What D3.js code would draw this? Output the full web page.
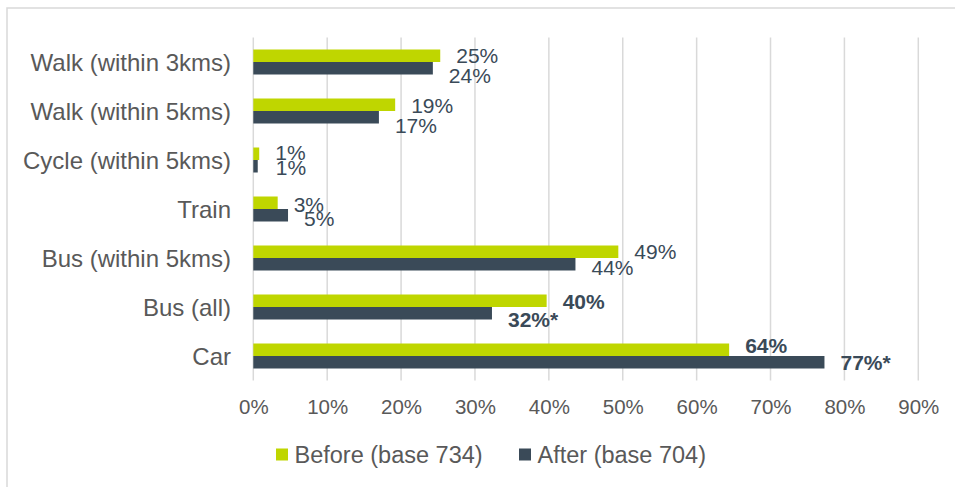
<!DOCTYPE html>
<html>
<head>
<meta charset="utf-8">
<script src="https://cdn.jsdelivr.net/npm/d3@7"></script>
<style>
  html, body { margin: 0; padding: 0; background: #fff; }
  svg { display: block; font-family: "Liberation Sans", Arial, sans-serif; }
</style>
</head>
<body>
<svg id="chart" width="955" height="487"></svg>
<script>
// Travel mode shares, before vs after
const categories = ["Walk (within 3kms)", "Walk (within 5kms)", "Cycle (within 5kms)", "Train", "Bus (within 5kms)", "Bus (all)", "Car"];
const beforeValues = [0.253, 0.192, 0.008, 0.033, 0.494, 0.397, 0.644];
const afterValues  = [0.243, 0.170, 0.006, 0.047, 0.436, 0.323, 0.773];
// significance marker on the "after" figures
const afterMarks   = ["", "", "", "", "", "*", "*"];
// categories whose figures are shown in bold
const boldCategories = ["Bus (all)", "Car"];
const seriesNames = ["Before (base 734)", "After (base 704)"];
const xTicks = [0, 0.1, 0.2, 0.3, 0.4, 0.5, 0.6, 0.7, 0.8, 0.9];

// label nudges (px) so neighbouring figures sit apart
const beforeLabelDy = [0, 0.5, -1, 1.5, -0.5, 0.5, -4.5];
const afterLabelDy  = [7.5, 8.5, 1, 3, 3.5, 6.5, 0];
const afterLabelDx  = [16, 16, 18, 16, 16, 16, 16];

const colors = ["#bfd600", "#3a4a58"];
const gridColor = "#d9d9d9";
const textGray = "#595959";

const svg = d3.select("#chart");

// outer chart frame
svg.append("rect")
  .attr("x", 7).attr("y", 8)
  .attr("width", 980).attr("height", 520)
  .attr("fill", "none")
  .attr("stroke", gridColor)
  .attr("stroke-width", 1.5);

const x = d3.scaleLinear().domain([0, 0.9]).range([253.3, 918.3]);
const y = d3.scaleBand().domain(categories).range([37.5, 380.5])
  .paddingInner(24 / 49).paddingOuter(12 / 49);
const ySeries = d3.scaleBand().domain([0, 1]).range([0, y.bandwidth()]);

// vertical gridlines
svg.append("g").selectAll("line")
  .data(xTicks)
  .join("line")
  .attr("x1", d => x(d)).attr("x2", d => x(d))
  .attr("y1", 37.5).attr("y2", 380.5)
  .attr("stroke", gridColor)
  .attr("stroke-width", 1.5);

// x axis tick labels
const xAxis = d3.axisBottom(x).tickValues(xTicks).tickFormat(d3.format(".0%")).tickSize(0).tickPadding(0);
const gx = svg.append("g").attr("transform", "translate(0,399)").call(xAxis);
gx.select(".domain").remove();
gx.selectAll("text")
  .attr("dy", null)
  .attr("y", 14.5)
  .attr("fill", textGray)
  .style("font-size", "20.5px")
  .style("font-family", "'Liberation Sans', Arial, sans-serif");

// category labels
const yAxis = d3.axisLeft(y).tickSize(0).tickPadding(0);
const gy = svg.append("g").attr("transform", "translate(231,0)").call(yAxis);
gy.select(".domain").remove();
gy.selectAll("text")
  .attr("dy", "0.36em")
  .attr("x", 0)
  .attr("fill", textGray)
  .style("font-size", "24px")
  .style("font-family", "'Liberation Sans', Arial, sans-serif");

const rows = categories.map((c, i) => ({
  cat: c,
  vals: [beforeValues[i], afterValues[i]],
  marks: ["", afterMarks[i]],
  dy: [beforeLabelDy[i], afterLabelDy[i]],
  dx: [16, afterLabelDx[i]],
  bold: boldCategories.includes(c)
}));

const groups = svg.append("g").selectAll("g")
  .data(rows)
  .join("g")
  .attr("transform", d => `translate(0,${y(d.cat)})`);

// bars
groups.selectAll("rect")
  .data(d => d.vals.map((v, s) => ({ v, s })))
  .join("rect")
  .attr("x", x(0))
  .attr("y", d => ySeries(d.s))
  .attr("width", d => x(d.v) - x(0))
  .attr("height", ySeries.bandwidth())
  .attr("fill", d => colors[d.s]);

// value labels
const pct = d3.format(".0%");
const labelSize = 21;
groups.selectAll("text")
  .data(d => d.vals.map((v, s) => ({ v, s, mark: d.marks[s], dy: d.dy[s], dx: d.dx[s], bold: d.bold })))
  .join("text")
  .attr("x", d => x(d.v) + d.dx)
  .attr("y", d => ySeries(d.s) + ySeries.bandwidth() / 2 + d.dy + labelSize * 0.36)
  .attr("fill", colors[1])
  .style("font-size", labelSize + "px")
  .style("font-weight", d => d.bold ? "bold" : "normal")
  .text(d => pct(d.v) + d.mark);

// legend
const legendItems = [
  { name: seriesNames[0], color: colors[0], x: 276 },
  { name: seriesNames[1], color: colors[1], x: 519 }
];
const legend = svg.append("g").selectAll("g")
  .data(legendItems)
  .join("g")
  .attr("transform", d => `translate(${d.x},448.5)`);
legend.append("rect")
  .attr("width", 12).attr("height", 12)
  .attr("fill", d => d.color);
legend.append("text")
  .attr("x", 18.5).attr("y", 14.5)
  .attr("fill", textGray)
  .style("font-size", "23.5px")
  .text(d => d.name);
</script>
</body>
</html>
